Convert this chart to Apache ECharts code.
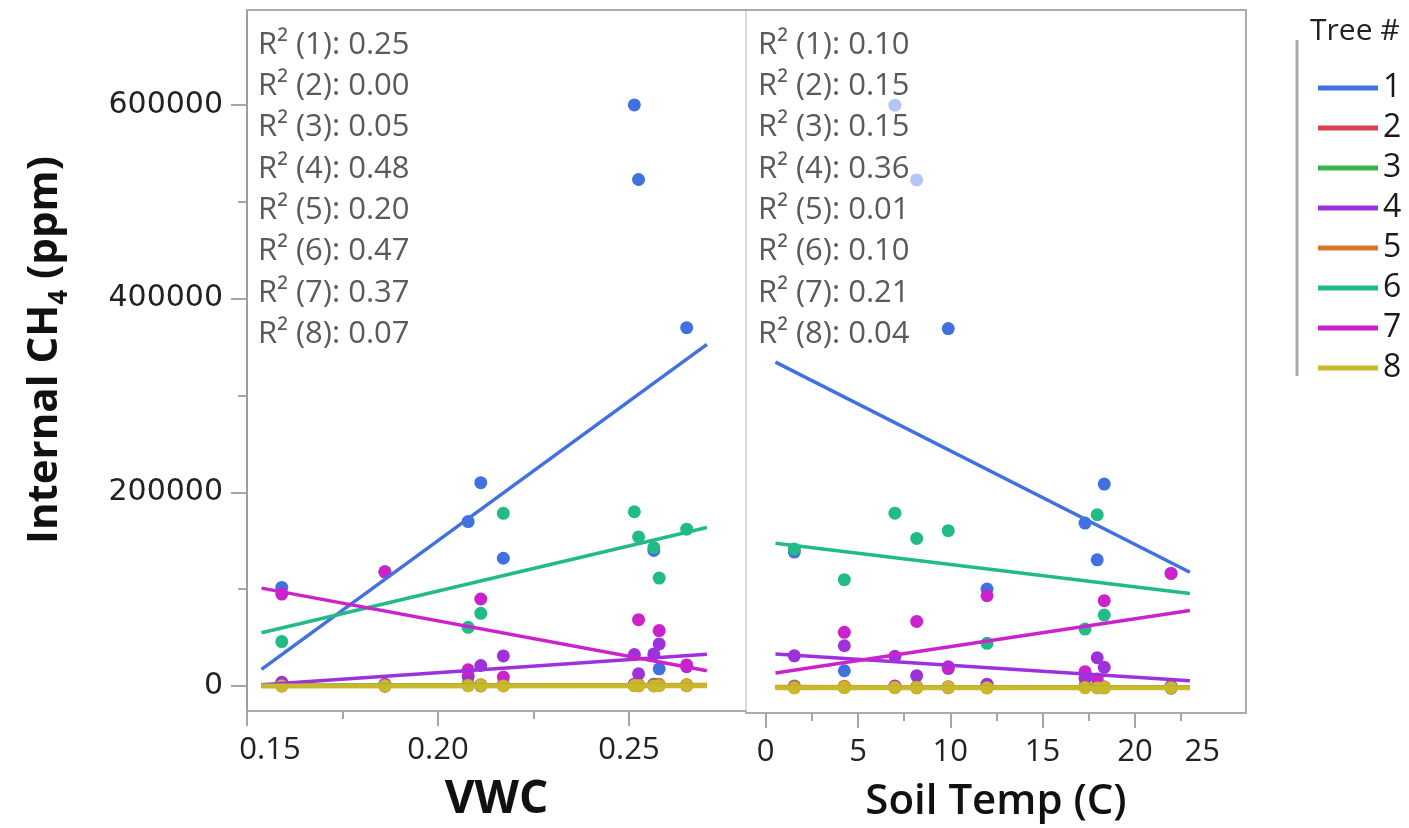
<!DOCTYPE html>
<html>
<head>
<meta charset="utf-8">
<script src="https://cdn.jsdelivr.net/npm/echarts@6/dist/echarts.min.js"></script>
<style>
  html, body { margin: 0; padding: 0; background: #ffffff; }
  #chart { width: 1409px; height: 828px; }
</style>
</head>
<body>
<div id="chart"></div>
<script>
// Soil conditions on each sampling date
const vwc      = [0.1591, 0.1861, 0.2079, 0.2112, 0.2171, 0.2514, 0.2525, 0.2565, 0.2579, 0.2651];
const soilTemp = [11.99, 21.96, 17.30, 18.34, 17.96, 7.00, 8.18, 1.55, 4.26, 9.89];

// Internal CH4 (ppm) of each tree, one value per sampling date
const trees = ['1', '2', '3', '4', '5', '6', '7', '8'];
const tree1 = [101900, 0, 169800, 210000, 132000, 600000, 523000, 140000, 17800, 370000];
const tree2 = [300, 150, 800, 200, 450, 600, 250, 350, 900, 400];
const tree3 = [1200, 500, 2500, 900, 1800, 700, 1500, 2200, 600, 1100];
const tree4 = [4000, 2000, 10000, 21300, 31200, 32600, 12700, 33200, 43500, 20000];
const tree5 = [200, 400, 900, 1300, 600, 1600, 800, 1100, 1900, 1400];
const tree6 = [46000, 118000, 60700, 75100, 178400, 180000, 154000, 143000, 111500, 162000];
const tree7 = [95000, 118000, 16800, 89900, 9300, 2000, 68600, 1000, 57300, 21900];
const tree8 = [100, 300, 250, 600, 150, 500, 350, 200, 450, 700];
const ch4 = [tree1, tree2, tree3, tree4, tree5, tree6, tree7, tree8];

// R² of each tree's linear fit
const r2Vwc  = ['0.25', '0.00', '0.05', '0.48', '0.20', '0.47', '0.37', '0.07'];
const r2Temp = ['0.10', '0.15', '0.15', '0.36', '0.01', '0.10', '0.21', '0.04'];

// Axis ticks
const vwcTicks = [0.15, 0.20, 0.25];
const vwcMinor = [0.175, 0.225];
const tempTicks = [0, 5, 10, 15, 20];
const tempLabels = [0, 5, 10, 15, 20, 25];
const tempMinor = [2.5, 7.5, 12.5, 17.5, 22.5];
const ch4Ticks = [0, 200000, 400000, 600000];
const ch4Minor = [100000, 300000, 500000];

const colors = ['#4170E0', '#D9434E', '#3BB34A', '#9D32DB', '#D7782A', '#22BB88', '#CC22CC', '#C8B92C'];

// Least-squares line, drawn over the data range padded by 5% on each side
function fitLine(xs, ys) {
  const n = xs.length;
  const mx = xs.reduce((a, b) => a + b, 0) / n;
  const my = ys.reduce((a, b) => a + b, 0) / n;
  let sxx = 0, sxy = 0;
  for (let i = 0; i < n; i++) {
    sxx += (xs[i] - mx) * (xs[i] - mx);
    sxy += (xs[i] - mx) * (ys[i] - my);
  }
  const b = sxy / sxx, a = my - b * mx;
  const lo = Math.min(...xs), hi = Math.max(...xs), pad = 0.05 * (hi - lo);
  return [[lo - pad, a + b * (lo - pad)], [hi + pad, a + b * (hi + pad)]];
}

const frameColor = '#ababab';
const tickColor = '#a6a6a6';
const tickFont = { fontFamily: 'Open Sans', fontSize: 31, color: '#222222' };

const series = [];
const panels = [
  { xs: vwc, xAxisIndex: 0, yAxisIndex: 0 },
  { xs: soilTemp, xAxisIndex: 3, yAxisIndex: 2 }
];
panels.forEach(p => {
  trees.forEach((t, i) => {
    series.push({
      name: t, type: 'scatter', xAxisIndex: p.xAxisIndex, yAxisIndex: p.yAxisIndex,
      symbol: 'circle', symbolSize: 13, z: 2,
      itemStyle: { color: colors[i], opacity: 1 },
      data: p.xs.map((x, k) => [x, ch4[i][k]])
    });
  });
  trees.forEach((t, i) => {
    series.push({
      name: t, type: 'line', xAxisIndex: p.xAxisIndex, yAxisIndex: p.yAxisIndex,
      showSymbol: false, silent: true, z: 3,
      lineStyle: { color: colors[i], width: (i === 7 ? 5 : 3.5) },
      itemStyle: { color: colors[i] },
      data: fitLine(p.xs, ch4[i])
    });
  });
});

function hiddenAxisParts() {
  return { splitLine: { show: false }, axisLabel: { show: false }, axisTick: { show: false } };
}
function edgeLine(color) {
  return { show: true, onZero: false, lineStyle: { color: color, width: 2 } };
}

const yRange = { min: -25700, max: 697960 };

const option = {
  animation: false,
  backgroundColor: '#ffffff',
  grid: [
    { left: 247, top: 10, width: 499, height: 704 },
    { left: 746, top: 10, width: 500, height: 704 }
  ],
  xAxis: [
    { // 0: VWC, major ticks and labels
      type: 'value', gridIndex: 0, position: 'bottom', min: 0.15, max: 0.28063,
      splitLine: { show: false },
      axisLine: edgeLine(frameColor),
      axisTick: { show: true, customValues: vwcTicks, length: 15, lineStyle: { color: tickColor, width: 2 } },
      axisLabel: {
        show: true, customValues: vwcTicks, margin: 24, ...tickFont,
        formatter: v => {
          const s = v.toFixed(2);
          return Math.abs(v - 0.15) < 1e-9 ? '{sh|' + s + '}' : s;
        },
        rich: { sh: { ...tickFont, padding: [0, 0, 0, 46] } }
      },
      name: 'VWC', nameLocation: 'middle', nameGap: 66,
      nameTextStyle: { fontFamily: 'Open Sans', fontSize: 46, fontWeight: 700, color: '#111111' }
    },
    { // 1: VWC minor ticks
      type: 'value', gridIndex: 0, position: 'bottom', min: 0.15, max: 0.28063,
      splitLine: { show: false }, axisLine: { show: false, onZero: false }, axisLabel: { show: false },
      axisTick: { show: true, customValues: vwcMinor, length: 8, lineStyle: { color: tickColor, width: 2 } }
    },
    { // 2: top edge of the VWC panel
      type: 'value', gridIndex: 0, position: 'top', min: 0.15, max: 0.28063,
      ...hiddenAxisParts(),
      axisLine: edgeLine(frameColor)
    },
    { // 3: Soil temperature, major ticks and labels
      type: 'value', gridIndex: 1, position: 'bottom', min: -1.067, max: 26.02,
      splitLine: { show: false },
      axisLine: edgeLine(frameColor),
      axisTick: { show: true, customValues: tempTicks, length: 15, lineStyle: { color: tickColor, width: 2 } },
      axisLabel: {
        show: true, customValues: tempLabels, margin: 24, ...tickFont,
        formatter: v => (v === 25 ? '{sh|25}' : String(v)),
        rich: { sh: { ...tickFont, padding: [0, 50, 0, 0] } }
      },
      name: 'Soil Temp (C)', nameLocation: 'middle', nameGap: 68,
      nameTextStyle: { fontFamily: 'Open Sans', fontSize: 42, fontWeight: 600, color: '#111111' }
    },
    { // 4: Soil temperature minor ticks
      type: 'value', gridIndex: 1, position: 'bottom', min: -1.067, max: 26.02,
      splitLine: { show: false }, axisLine: { show: false, onZero: false }, axisLabel: { show: false },
      axisTick: { show: true, customValues: tempMinor, length: 8, lineStyle: { color: tickColor, width: 2 } }
    },
    { // 5: top edge of the soil temperature panel
      type: 'value', gridIndex: 1, position: 'top', min: -1.067, max: 26.02,
      ...hiddenAxisParts(),
      axisLine: edgeLine(frameColor)
    }
  ],
  yAxis: [
    { // 0: CH4, major ticks and labels
      type: 'value', gridIndex: 0, position: 'left', ...yRange,
      splitLine: { show: false },
      axisLine: edgeLine('#9c9c9c'),
      axisTick: { show: true, customValues: ch4Ticks, length: 16, lineStyle: { color: tickColor, width: 2 } },
      axisLabel: {
        show: true, customValues: ch4Ticks, margin: 24,
        fontFamily: 'DejaVu Sans', fontSize: 30, color: '#222222',
        formatter: v => String(v)
      }
    },
    { // 1: CH4 minor ticks
      type: 'value', gridIndex: 0, position: 'left', ...yRange,
      splitLine: { show: false }, axisLine: { show: false, onZero: false }, axisLabel: { show: false },
      axisTick: { show: true, customValues: ch4Minor, length: 9, lineStyle: { color: tickColor, width: 2 } }
    },
    { // 2: divider between the panels
      type: 'value', gridIndex: 1, position: 'left', ...yRange,
      ...hiddenAxisParts(),
      axisLine: edgeLine('#d9d9d9')
    },
    { // 3: right edge of the frame
      type: 'value', gridIndex: 1, position: 'right', ...yRange,
      ...hiddenAxisParts(),
      axisLine: edgeLine(frameColor)
    }
  ],
  legend: {
    orient: 'vertical', left: 1313, top: 67,
    itemWidth: 60, itemHeight: 5, itemGap: 8,
    selectedMode: false,
    textStyle: { fontFamily: 'Open Sans', fontSize: 32, color: '#1a1a1a', lineHeight: 32 },
    data: trees.map((t, i) => ({ name: t, icon: 'rect', itemStyle: { color: colors[i] } }))
  },
  graphic: [
    // translucent boxes behind the R² read-outs
    { type: 'rect', z: 50, silent: true, shape: { x: 252, y: 24, width: 174, height: 332 }, style: { fill: 'rgba(255,255,255,0.6)' } },
    { type: 'rect', z: 50, silent: true, shape: { x: 752, y: 24, width: 174, height: 332 }, style: { fill: 'rgba(255,255,255,0.6)' } },
    ...r2Vwc.map((r, i) => ({
      type: 'text', z: 51, silent: true, x: 258, y: 45 + 41.3 * i,
      style: { text: 'R² (' + (i + 1) + '): ' + r, fontFamily: 'Open Sans', fontSize: 31, fill: '#5a5a5a', verticalAlign: 'middle' }
    })),
    ...r2Temp.map((r, i) => ({
      type: 'text', z: 51, silent: true, x: 758, y: 45 + 41.3 * i,
      style: { text: 'R² (' + (i + 1) + '): ' + r, fontFamily: 'Open Sans', fontSize: 31, fill: '#5a5a5a', verticalAlign: 'middle' }
    })),
    // y-axis title with subscript
    {
      type: 'text', z: 51, silent: true, x: 45, y: 350, rotation: Math.PI / 2,
      style: {
        text: '{a|Internal CH}{s|4}{a| (ppm)}',
        align: 'center', verticalAlign: 'middle',
        rich: {
          a: { fontFamily: 'Open Sans', fontSize: 42, fontWeight: 700, fill: '#111111', lineHeight: 56, verticalAlign: 'middle' },
          s: { fontFamily: 'Open Sans', fontSize: 26, fontWeight: 700, fill: '#111111', lineHeight: 26, verticalAlign: 'bottom' }
        }
      }
    },
    // legend heading and its rule
    {
      type: 'text', z: 51, silent: true, x: 1310, y: 31,
      style: { text: 'Tree #', fontFamily: 'Open Sans', fontSize: 30, fill: '#222222', verticalAlign: 'middle' }
    },
    { type: 'line', z: 51, silent: true, shape: { x1: 1297, y1: 40, x2: 1297, y2: 376 }, style: { stroke: '#a8a8a8', lineWidth: 3 } }
  ],
  series: series
};

const chart = echarts.init(document.getElementById('chart'), null, { renderer: 'canvas' });
chart.setOption(option);
</script>
</body>
</html>
